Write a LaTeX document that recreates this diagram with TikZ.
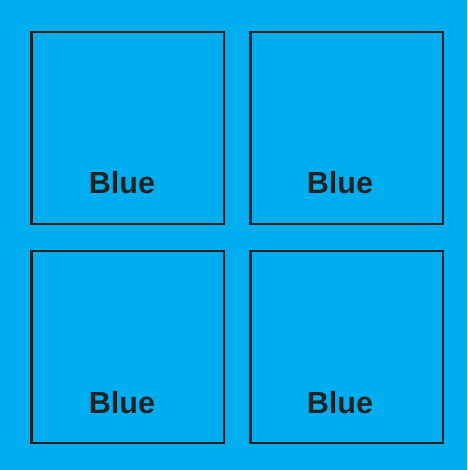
\documentclass[tikz,border=0pt]{standalone}
\usepackage{fontspec}
\setmainfont{Liberation Sans}
\definecolor{bgblue}{HTML}{00ADEF}
\definecolor{ink}{HTML}{222222}
\tikzset{
  pane/.style={draw=ink, line width=2.5pt, minimum width=192.5pt, minimum height=192pt, inner sep=0pt, outer sep=0pt},
  lbl/.style={text=ink, font=\fontsize{30.5}{36}\selectfont\bfseries, inner sep=0pt, anchor=base}
}
\begin{document}
\begin{tikzpicture}[x=1pt,y=-1pt]
\fill[bgblue] (0,0) rectangle (467,470);
\useasboundingbox (0,0) rectangle (467,470);
\node[pane] (b1) at (127.75,128) {};
\node[pane] (b2) at (346.5,128) {};
\node[pane] (b3) at (127.75,347) {};
\node[pane] (b4) at (346.5,347) {};
\node[lbl] (t1) at (122,193.5) {Blue};
\node[lbl] (t2) at (340,193.5) {Blue};
\node[lbl] (t3) at (122,413) {Blue};
\node[lbl] (t4) at (340,413) {Blue};
\end{tikzpicture}
\end{document}
